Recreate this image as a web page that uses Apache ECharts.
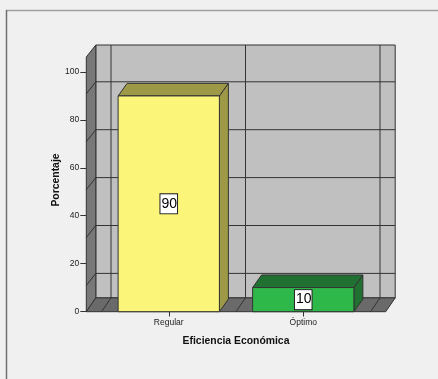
<!DOCTYPE html>
<html>
<head>
<meta charset="utf-8">
<script src="https://cdn.jsdelivr.net/npm/echarts@6/dist/echarts.min.js"></script>
<style>
  html, body { margin: 0; padding: 0; background: #f0f0f0; }
  #chart { width: 438px; height: 379px; }
</style>
</head>
<body>
<div id="chart"></div>
<script>
// Eficiencia Económica: share of respondents per rating (percent)
const categories = ['Regular', 'Óptimo'];
const percentages = [90, 10];
const yMin = 0, yMax = 100, yStep = 20;
const gridValues = [20, 40, 60, 80, 100];

const FONT = 'Liberation Sans Narrow, Arial Narrow, Liberation Sans, Arial, sans-serif';
const FONT_BOLD = 'Liberation Sans, Arial, sans-serif';
const EDGE = '#333333';

// face colours: [front, top/side]
const barColors = [
  ['#fbf67a', '#9d9947'],
  ['#2eb84a', '#1f7031']
];

// 3D box depth offsets
const WALL_DX = 9.5, WALL_DY = -13.8;
const BAR_DX = 9, BAR_DY = -12.6;

function poly(points, fill, z) {
  return { type: 'polygon', z2: z || 0, shape: { points: points },
    style: { fill: fill, stroke: EDGE, lineWidth: 1 } };
}
function line(x1, y1, x2, y2, z) {
  return { type: 'line', z2: z || 1, shape: { x1: x1, y1: y1, x2: x2, y2: y2 },
    style: { stroke: EDGE, lineWidth: 1 } };
}

// back wall, left wall and floor of the chart box
function renderBox(params, api) {
  const c0 = api.coord([0, 0]);
  const band = api.size([1, 0])[0];
  const L = c0[0] - band / 2;
  const R = L + band * categories.length;
  const y0 = api.coord([0, yMin])[1];
  const yTop = api.coord([0, yMax])[1];

  const fl = L - 15.2, fr = R + 15.2;      // front corners
  const bl = fl + WALL_DX, br = fr + WALL_DX;
  const fy = y0 + 0.2, by = fy + WALL_DY;  // floor front / back
  const wallTop = yTop - 27;
  const leftTop = yTop - 15;

  const ch = [];
  ch.push(poly([[bl, wallTop], [br, wallTop], [br, by], [bl, by]], '#c0c0c0', 0));
  ch.push(poly([[fl, leftTop], [bl, wallTop], [bl, by], [fl, fy]], '#787878', 0));
  ch.push(poly([[fl, fy], [bl, by], [br, by], [fr, fy]], '#6a6a6a', 0));

  // horizontal grid on back wall + diagonals on left wall
  gridValues.forEach(function (v) {
    const yb = api.coord([0, v])[1] + 9.8;
    ch.push(line(bl, yb, br, yb));
    ch.push(line(fl, yb + 12, bl, yb));
  });
  // category separators on back wall + diagonals on floor
  for (let i = 0; i <= categories.length; i++) {
    const xf = L + band * i;
    ch.push(line(xf + WALL_DX, wallTop, xf + WALL_DX, by));
    ch.push(line(xf, fy, xf + WALL_DX, by));
  }
  return { type: 'group', children: ch };
}

// 3D bar: front face, top face, right side face and value label
function renderBar(params, api) {
  const idx = api.value(0);
  const v = api.value(1);
  const base = api.coord([idx, 0]);
  const top = api.coord([idx, v]);
  const w = api.size([1, 0])[0] * 0.753;
  const x0 = base[0] - w / 2, x1 = base[0] + w / 2;
  const yt = top[1], y0 = base[1] + 0.2;
  const col = barColors[idx % barColors.length];
  const ch = [
    poly([[x1, yt], [x1 + BAR_DX, yt + BAR_DY], [x1 + BAR_DX, y0 + BAR_DY], [x1, y0]], col[1], 2),
    poly([[x0, yt], [x0 + BAR_DX, yt + BAR_DY], [x1 + BAR_DX, yt + BAR_DY], [x1, yt]], col[1], 2),
    poly([[x0, yt], [x1, yt], [x1, y0], [x0, y0]], col[0], 3),
    { type: 'text', z2: 5, x: base[0], y: (yt + y0) / 2,
      style: { text: String(v), align: 'center', verticalAlign: 'middle',
        fontSize: 14, fontFamily: 'Liberation Sans, Arial, sans-serif', fill: '#000',
        backgroundColor: '#ffffff', borderColor: '#222', borderWidth: 1,
        padding: [2, 0, 1, 1], lineHeight: 16 } }
  ];
  return { type: 'group', children: ch };
}

const chart = echarts.init(document.getElementById('chart'), null, { renderer: 'canvas' });

chart.setOption({
  backgroundColor: '#f0f0f0',
  animation: false,
  grid: { left: 101.5, right: 67.5, top: 72, bottom: 67.5, containLabel: false },
  xAxis: {
    type: 'category',
    data: categories,
    axisLine: { show: false },
    axisTick: { show: true, alignWithLabel: true, length: 5, lineStyle: { color: '#333' } },
    axisLabel: { margin: 7, fontSize: 8.5, color: '#222', fontFamily: FONT },
    splitLine: { show: false },
    name: 'Eficiencia Económica',
    nameLocation: 'middle',
    nameGap: 25,
    nameTextStyle: { fontSize: 10.4, fontWeight: 'bold', color: '#111', fontFamily: FONT_BOLD }
  },
  yAxis: {
    type: 'value',
    min: yMin, max: yMax, interval: yStep,
    offset: 15.2,
    axisLine: { show: false },
    axisTick: { show: true, length: 6, lineStyle: { color: '#333' } },
    axisLabel: { margin: 7, fontSize: 8.5, color: '#222', fontFamily: FONT },
    splitLine: { show: false }
  },
  graphic: [
    { type: 'line', shape: { x1: 6, y1: 10.5, x2: 438, y2: 10.5 },
      style: { stroke: '#a0a0a0', lineWidth: 1.5 } },
    { type: 'line', shape: { x1: 6.5, y1: 10, x2: 6.5, y2: 379 },
      style: { stroke: '#707070', lineWidth: 1.5 } },
    { type: 'text', x: 56.5, y: 180, rotation: Math.PI / 2,
      style: { text: 'Porcentaje', align: 'center', verticalAlign: 'middle',
        fontSize: 10.4, fontWeight: 'bold', fill: '#111', fontFamily: FONT_BOLD } }
  ],
  series: [
    { type: 'custom', name: 'box', clip: false, z: 1, silent: true,
      renderItem: renderBox, data: [[0, 0]], encode: { x: 0, y: 1 } },
    { type: 'custom', name: 'Porcentaje', clip: false, z: 2,
      renderItem: renderBar,
      data: percentages.map(function (v, i) { return [i, v]; }),
      encode: { x: 0, y: 1 } }
  ]
});
</script>
</body>
</html>
